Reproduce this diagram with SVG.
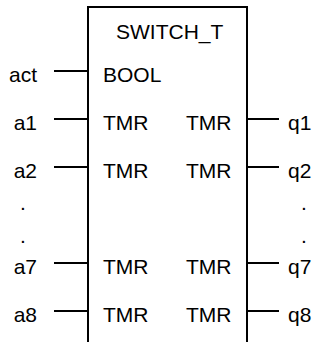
<svg xmlns="http://www.w3.org/2000/svg" width="321" height="342" viewBox="0 0 321 342">
<style>
text{font-family:"Liberation Sans",Arial,sans-serif;font-size:21px;fill:#000}
.ln{stroke:#000;stroke-width:2;fill:none}
.r{text-anchor:end}
</style>
<rect width="321" height="342" fill="#fff"/>
<g id="block">
<path class="ln" d="M88,342 V7 H247 V342"/>
<text x="116" y="39">SWITCH_T</text>
<text x="103" y="82">BOOL</text>
<text x="103" y="130">TMR</text><text x="186" y="130">TMR</text>
<text x="103" y="178">TMR</text><text x="186" y="178">TMR</text>
<text x="103" y="274">TMR</text><text x="186" y="274">TMR</text>
<text x="103" y="322">TMR</text><text x="186" y="322">TMR</text>
</g>
<g id="connectors">
<path class="ln" d="M54,71 H88 M54,119 H88 M54,167 H88 M54,263 H88 M54,311 H88"/>
<path class="ln" d="M247,119 H279 M247,167 H279 M247,263 H279 M247,311 H279"/>
</g>
<g id="inputs">
<text class="r" x="37" y="82">act</text>
<text class="r" x="37" y="130">a1</text>
<text class="r" x="37" y="178">a2</text>
<text x="20" y="210">.</text>
<text x="20" y="243">.</text>
<text class="r" x="37" y="274">a7</text>
<text class="r" x="37" y="322">a8</text>
</g>
<g id="outputs">
<text x="288" y="130">q1</text>
<text x="288" y="178">q2</text>
<text x="301" y="210">.</text>
<text x="301" y="243">.</text>
<text x="288" y="274">q7</text>
<text x="288" y="322">q8</text>
</g>
</svg>
